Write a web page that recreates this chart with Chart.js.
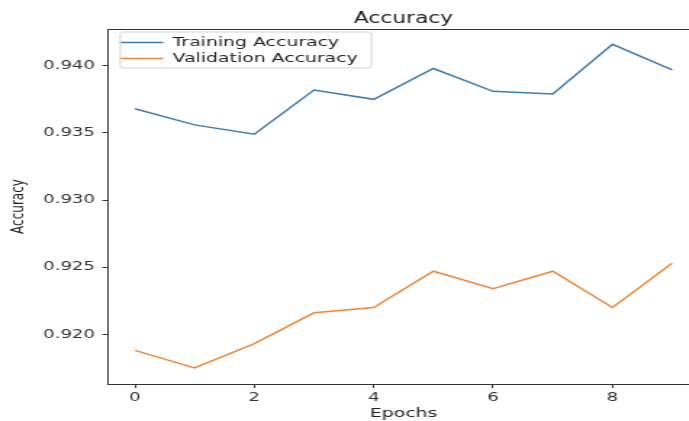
<!DOCTYPE html>
<html>
<head>
<meta charset="utf-8">
<script src="https://cdn.jsdelivr.net/npm/chart.js@4.4.1/dist/chart.umd.min.js"></script>
<style>
  html, body { margin: 0; padding: 0; background: #fff; }
  #wrap { width: 689px; height: 421px; overflow: hidden; position: relative; }
  #chart { position: absolute; left: 0; top: 0; }
</style>
</head>
<body>
<!-- the reference is a horizontally stretched matplotlib image, so the canvas is drawn narrow and stretched by css -->
<div id="wrap"><canvas id="chart" width="482" height="421" style="width:699px;height:421px"></canvas></div>
<script>
// data
var epochs = [0, 1, 2, 3, 4, 5, 6, 7, 8, 9];
var trainAcc = [0.9368, 0.9356, 0.9349, 0.9382, 0.9375, 0.9398, 0.9381, 0.9379, 0.9416, 0.9397];
var valAcc = [0.9188, 0.9175, 0.9193, 0.9216, 0.9220, 0.9247, 0.9234, 0.9247, 0.9220, 0.9253];
var xTicks = [0, 2, 4, 6, 8];
var yTicks = [0.920, 0.925, 0.930, 0.935, 0.940];

var FONT = "'DejaVu Sans', sans-serif";
var blue = "#3b7db3";
var orange = "#f0873a";

function toPoints(vals) {
  return epochs.map(function(e, i) { return { x: e, y: vals[i] }; });
}

// legend inside the axes (upper left) and title centred over the axes, like matplotlib
var placePlugin = {
  id: "place",
  afterLayout: function(chart) {
    var a = chart.chartArea;
    var tb = chart.titleBlock;
    if (tb) { tb.left = a.left; tb.right = a.right; tb.width = a.right - a.left; }
    var lg = chart.legend;
    if (!lg) return;
    var dx = a.left + 5 - lg.left;
    var dy = a.top + 4 - lg.top;
    lg.left += dx; lg.right += dx;
    lg.top += dy; lg.bottom += dy;
    lg.legendHitBoxes.forEach(function(h) { h.left += dx; h.top += dy; });
  }
};

// top spine + legend frame
var framePlugin = {
  id: "frame",
  afterDraw: function(chart) {
    var ctx = chart.ctx;
    var a = chart.chartArea;
    ctx.save();
    ctx.strokeStyle = "#333";
    ctx.lineWidth = 1;
    ctx.beginPath();
    ctx.moveTo(a.left, a.top + 0.5);
    ctx.lineTo(a.right, a.top + 0.5);
    ctx.stroke();

    var hb = chart.legend && chart.legend.legendHitBoxes;
    if (hb && hb.length) {
      var l = Infinity, t = Infinity, r = -Infinity, b = -Infinity;
      hb.forEach(function(h) {
        l = Math.min(l, h.left); t = Math.min(t, h.top);
        r = Math.max(r, h.left + h.width); b = Math.max(b, h.top + h.height);
      });
      ctx.strokeStyle = "#d4d4d4";
      ctx.beginPath();
      ctx.roundRect(l - 4.5, t - 4, r - l + 9, b - t + 7, 2);
      ctx.stroke();
    }
    ctx.restore();
  }
};

new Chart(document.getElementById("chart"), {
  type: "line",
  data: {
    datasets: [
      {
        label: "Training Accuracy",
        data: toPoints(trainAcc),
        borderColor: blue,
        backgroundColor: blue,
        borderWidth: 1.5,
        pointRadius: 0,
        tension: 0
      },
      {
        label: "Validation Accuracy",
        data: toPoints(valAcc),
        borderColor: orange,
        backgroundColor: orange,
        borderWidth: 1.5,
        pointRadius: 0,
        tension: 0
      }
    ]
  },
  options: {
    responsive: false,
    animation: false,
    devicePixelRatio: 1,
    layout: { padding: { left: 6, right: 0, top: 0, bottom: 0 } },
    plugins: {
      title: {
        display: true,
        text: "Accuracy",
        color: "#222",
        font: { family: FONT, size: 15, weight: "normal" },
        padding: { top: 10, bottom: 1 }
      },
      legend: {
        position: "chartArea",
        align: "start",
        labels: {
          color: "#222",
          font: { family: FONT, size: 13 },
          usePointStyle: true,
          pointStyleWidth: 30,
          pointStyle: "line",
          boxHeight: 12,
          padding: 3
        }
      },
      tooltip: { enabled: false }
    },
    scales: {
      x: {
        type: "linear",
        min: -0.45,
        max: 9.45,
        afterBuildTicks: function(s) { s.ticks = xTicks.map(function(v) { return { value: v }; }); },
        afterFit: function(s) { s.height = 37; },
        grid: { display: true, drawOnChartArea: false, drawTicks: true, tickLength: 4, color: "#333" },
        border: { display: true, color: "#333", width: 1 },
        ticks: { color: "#333", font: { family: FONT, size: 12.5 }, padding: 2, maxRotation: 0 },
        title: { display: true, text: "Epochs", color: "#222", font: { family: FONT, size: 13 }, padding: 0 }
      },
      y: {
        min: 0.9163,
        max: 0.94274,
        afterBuildTicks: function(s) { s.ticks = yTicks.map(function(v) { return { value: v }; }); },
        afterFit: function(s) { s.width = 68.5; },
        grid: { display: true, drawOnChartArea: false, drawTicks: true, tickLength: 4, color: "#333" },
        border: { display: true, color: "#333", width: 1 },
        ticks: {
          color: "#333",
          font: { family: FONT, size: 12.5 },
          padding: 5,
          callback: function(v) { return v.toFixed(3); }
        },
        title: { display: true, text: "Accuracy", color: "#222", font: { family: FONT, size: 12 }, padding: 0 }
      }
    }
  },
  plugins: [placePlugin, framePlugin]
});
</script>
</body>
</html>
